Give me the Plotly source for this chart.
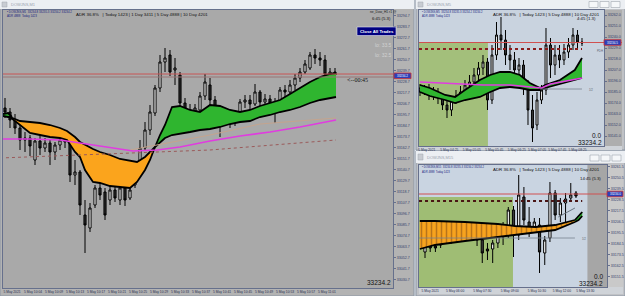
import plotly.graph_objects as go

W, H = 625, 296
FONT = "Liberation Sans, Arial, sans-serif"

# ================= DATA =================
# --- main chart (DOWJNS, M1) ---
main_open = [33202,33198,33190,33182,33170,33172,33150,33169,33162,33167,33158,33165,33170,33168,33135,33138,33095,33082,33105,33122,
             33118,33110,33120,33110,33122,33112,33125,33142,33162,33180,33197,33222,33248,33255,33240,33235,33207,33192,33198,33200,
             33214,33225,33210,33198,33190,33195,33188,33193,33208,33210,33206,33218,33208,33211,33207,33203,33220,33218,33225,33232,
             33238,33242,33255,33252,33250,33236,33238]
main_close = [33198,33190,33182,33170,33172,33164,33169,33162,33167,33158,33165,33170,33168,33135,33138,33105,33085,33102,33122,33115,
              33095,33120,33112,33122,33110,33120,33142,33162,33180,33198,33222,33248,33252,33238,33242,33207,33192,33200,33202,33214,
              33228,33210,33198,33190,33195,33188,33193,33208,33210,33206,33218,33208,33211,33207,33200,33220,33218,33225,33232,33238,
              33246,33255,33252,33250,33236,33238,33235]
main_high = [33212,33202,33196,33185,33178,33175,33172,33175,33172,33171,33168,33177,33180,33171,33150,33140,33110,33107,33125,33127,
             33122,33125,33124,33125,33124,33125,33147,33170,33188,33205,33225,33255,33262,33260,33252,33238,33212,33206,33206,33218,
             33236,33232,33214,33204,33202,33200,33198,33211,33215,33215,33226,33220,33216,33215,33212,33223,33225,33230,33236,33242,
             33250,33258,33261,33258,33255,33242,33242]
main_low = [33192,33182,33176,33160,33158,33154,33145,33155,33158,33145,33150,33160,33162,33128,33125,33095,33057,33078,33102,33110,
            33090,33105,33108,33105,33104,33110,33122,33138,33160,33175,33194,33218,33238,33234,33225,33202,33186,33188,33190,33197,
            33210,33204,33188,33173,33184,33182,33184,33191,33202,33200,33204,33202,33202,33200,33187,33200,33212,33214,33220,33228,
            33236,33240,33246,33244,33230,33228,33230]
main_x = list(range(len(main_open)))

main_orange_x = [1, 3, 5, 7, 9, 11, 12.4, 14, 15, 16, 17.6, 19, 21, 23, 25, 26.4, 28, 29, 30]
main_orange_upper = [33193,33189,33188,33187,33185,33182,33179,33173,33168,33165,33161,33158,33155,33151,33149,33148,33153,33158,33163]
main_orange_lower = [33193,33185,33177,33175,33173,33172,33170,33158,33153,33140,33128,33127,33124,33123,33122,33128,33140,33150,33163]

main_green_x = [30, 31, 32, 33.4, 35, 37, 39, 41, 43, 45, 47, 49, 51, 53, 55, 57, 59, 61, 63, 65, 66.2]
main_green_upper = [33163,33175,33185,33203,33204,33200,33198,33205,33204,33200,33198,33200,33204,33207,33210,33216,33222,33228,33233,33236,33237]
main_green_lower = [33163,33168,33172,33175,33176,33178,33180,33181,33183,33186,33188,33189,33193,33195,33198,33200,33203,33207,33210,33212,33213]

main_green0_x = [-0.4, 0.6, 1.4]
main_green0_upper = [33196, 33197, 33193]
main_green0_lower = [33194, 33193, 33193]

main_magenta_x = [-1, 5, 11, 15, 19, 25.6, 30.4, 35, 41, 47, 53, 59, 66.2]
main_magenta_y = [33171,33171,33170,33167,33164,33159,33160,33163,33169,33174,33178,33183,33190]
main_dotted_x = [-1, 41, 66.2]
main_dotted_y = [33152, 33160, 33170]
main_tan_x = [25, 41, 51, 66.2]
main_tan_y = [33160, 33175, 33186, 33192]

main_price_lines = [33236, 33233]
main_current = 33234.2
main_time_pos = [1.4, 5.6, 9.8, 14.0, 18.2, 22.4, 26.6, 30.8, 35.0, 39.2, 43.4, 47.6, 51.8, 56.0, 60.2, 64.4]
main_time_labels = ["5 May 2021", "5 May 10:04", "5 May 10:09", "5 May 10:13", "5 May 10:17", "5 May 10:21",
                    "5 May 10:25", "5 May 10:29", "5 May 10:33", "5 May 10:37", "5 May 10:41", "5 May 10:45",
                    "5 May 10:49", "5 May 10:53", "5 May 10:57", "5 May 11:01"]

# --- top-right chart (DOWJNS, M5) ---
tr_open = [33189,33185,33189,33182,33185,33179,33172,33167,33177,33181,33185,33192,33195,33202,33209,33215,33177,33222,33242,33237,
           33222,33217,33207,33212,33192,33167,33152,33177,33187,33232,33212,33222,33217,33225,33232,33242,33235]
tr_close = [33185,33189,33182,33185,33179,33172,33167,33177,33181,33185,33192,33195,33202,33209,33215,33177,33222,33242,33237,33222,
            33217,33207,33212,33192,33167,33149,33177,33187,33232,33212,33222,33217,33225,33232,33242,33235,33234]
tr_high = [33193,33192,33193,33190,33189,33183,33179,33181,33187,33191,33197,33202,33209,33215,33222,33219,33232,33255,33260,33247,
           33232,33225,33219,33217,33197,33182,33185,33192,33249,33239,33232,33232,33233,33239,33249,33247,33239]
tr_low = [33181,33182,33177,33177,33173,33167,33159,33161,33173,33177,33181,33187,33189,33195,33202,33167,33173,33217,33227,33212,
          33207,33197,33195,33182,33152,33135,33147,33173,33182,33199,33202,33209,33212,33219,33227,33229,33231]
tr_x = list(range(len(tr_open)))

tr_green_x = [0, 2.2, 5.6, 7.8, 10, 13.3, 15.6, 17.8, 20, 22.2, 24.4, 26.7, 27.8, 31.1, 34.4, 36]
tr_green_upper = [33192,33189,33182,33180,33187,33197,33202,33205,33205,33202,33194,33189,33192,33197,33207,33219]
tr_green_lower = [33185,33181,33177,33174,33177,33180,33185,33189,33190,33189,33187,33187,33189,33193,33197,33199]
tr_magenta_x = [0, 6, 14, 20, 25, 27, 29, 36]
tr_magenta_y = [33195, 33194, 33192, 33192, 33190, 33189, 33193, 33199]
tr_zone = [-0.22, 15.1, 33235]          # x0, x1, top of shaded zone
tr_current = 33234.5
tr_dotted = [33228, -0.22, 36]
tr_gray = [33188, 26.7, 36]
tr_time_pos = [1.5, 6.5, 11.5, 16.5, 21.5, 26.0, 30.5, 35.0]
tr_time_labels = ["5 May 2021", "5 May 04:25", "5 May 05:05", "5 May 05:45", "5 May 06:25", "5 May 07:05",
                  "5 May 07:45", "5 May 08:25"]

# --- bottom-right chart (DOWJNS, M15) ---
br_open = [33176,33193,33182,33183,33192,33197,33191,33197,33192,33195,33198,33188,33179,33179,33185,33200,33193,33218,33193,33231,
           33206,33200,33203,33175,33190,33235,33213,33225,33230,33235]
br_close = [33186,33180,33180,33191,33195,33188,33189,33191,33195,33198,33188,33175,33177,33185,33198,33191,33218,33201,33233,33208,
            33198,33206,33176,33188,33235,33213,33225,33229,33233,33232]
br_high = [33192,33196,33186,33196,33200,33200,33195,33200,33198,33201,33200,33192,33185,33188,33202,33206,33221,33222,33253,33241,
           33221,33210,33210,33192,33246,33238,33230,33235,33245,33237]
br_low = [33170,33176,33176,33180,33188,33184,33185,33186,33188,33192,33182,33165,33168,33165,33180,33183,33190,33171,33188,33203,
          33191,33196,33155,33163,33186,33208,33206,33205,33227,33230]
br_x = list(range(len(br_open)))

br_orange_x = [-1, 1.9, 7.7, 14, 17.3, 21.2, 25, 28.8]
br_orange_upper = [33207, 33207, 33206, 33204, 33202, 33201, 33203, 33208]
br_orange_lower = [33179, 33183, 33187, 33191, 33193, 33195, 33198, 33206]
br_green_x = [28.8, 29.5, 30.2]
br_green_upper = [33208, 33212, 33216]
br_green_lower = [33206, 33208, 33212]
br_diag_x = [25.6, 28.8]
br_diag_y = [33211, 33220]
br_zone = [-1.15, 16.9, 33231]
br_dark = [31.2, 34.96]
br_current = 33234
br_dotted = [33227, -1.15, 30.2]
br_gray = [33190, -1.15, 28.8]
br_time_pos = [1.0, 5.8, 11.0, 16.3, 21.5, 26.3, 30.8]
br_time_labels = ["5 May 2021", "5 May 06:00", "5 May 07:30", "5 May 09:00", "5 May 10:30", "5 May 12:00", "5 May 13:30"]


# ================= HELPERS =================
def fx(p):
    return p / W


def fy(p):
    return 1 - p / H


def candles(x, o, h, l, c, xa, ya, bear="#2b2b2b"):
    return go.Candlestick(
        x=x, open=o, high=h, low=l, close=c, xaxis=xa, yaxis=ya,
        increasing=dict(line=dict(color="#000000", width=1), fillcolor="#ffffff"),
        decreasing=dict(line=dict(color="#000000", width=1), fillcolor=bear),
        whiskerwidth=0, showlegend=False, hoverinfo="skip")


def band(x, lo, up, color, xa, ya, pattern=None):
    t1 = go.Scatter(x=x, y=lo, mode="lines", line=dict(color="#000000", width=1.8),
                    xaxis=xa, yaxis=ya, showlegend=False, hoverinfo="skip")
    kw = {}
    if pattern:
        kw["fillpattern"] = pattern
    t2 = go.Scatter(x=x, y=up, mode="lines", line=dict(color="#000000", width=1.8),
                    fill="tonexty", fillcolor=color, xaxis=xa, yaxis=ya,
                    showlegend=False, hoverinfo="skip", **kw)
    return [t1, t2]


def line(x, y, color, width, xa, ya, dash="solid"):
    return go.Scatter(x=x, y=y, mode="lines", line=dict(color=color, width=width, dash=dash),
                      xaxis=xa, yaxis=ya, showlegend=False, hoverinfo="skip")


fig = go.Figure()

# main
for t in band(main_orange_x, main_orange_lower, main_orange_upper, "#fba41c", "x", "y"):
    fig.add_trace(t)
for t in band(main_green_x, main_green_lower, main_green_upper, "#2fb52f", "x", "y"):
    fig.add_trace(t)
for t in band(main_green0_x, main_green0_lower, main_green0_upper, "#2fb52f", "x", "y"):
    fig.add_trace(t)
fig.add_trace(line(main_dotted_x, main_dotted_y, "#9a5a5a", 1, "x", "y", "dot"))
fig.add_trace(line(main_tan_x, main_tan_y, "#c4a48e", 1, "x", "y"))
fig.add_trace(line(main_magenta_x, main_magenta_y, "#e03ce0", 1.6, "x", "y"))
fig.add_trace(candles(main_x, main_open, main_high, main_low, main_close, "x", "y"))

# top-right
for t in band(tr_green_x, tr_green_lower, tr_green_upper, "#2fb52f", "x2", "y2"):
    fig.add_trace(t)
fig.add_trace(line(tr_magenta_x, tr_magenta_y, "#e03ce0", 1.4, "x2", "y2"))
fig.add_trace(candles(tr_x, tr_open, tr_high, tr_low, tr_close, "x2", "y2", bear="#3a3a3a"))

# bottom-right
for t in band(br_orange_x, br_orange_lower, br_orange_upper, "#f7a31e", "x3", "y3",
              pattern=dict(shape="|", fgcolor="#b8741a", bgcolor="#f7a31e", size=5, solidity=0.3)):
    fig.add_trace(t)
for t in band(br_green_x, br_green_lower, br_green_upper, "#2fb52f", "x3", "y3"):
    fig.add_trace(t)
fig.add_trace(line(br_diag_x, br_diag_y, "#6a7480", 1, "x3", "y3"))
fig.add_trace(candles(br_x, br_open, br_high, br_low, br_close, "x3", "y3", bear="#3a3a3a"))

# ================= SHAPES =================
shapes = []


def prect(x0, y0, x1, y1, fill, lc=None, lw=0, layer="below"):
    shapes.append(dict(type="rect", xref="paper", yref="paper", x0=fx(x0), x1=fx(x1), y0=fy(y1), y1=fy(y0),
                       fillcolor=fill, line=dict(color=lc or fill, width=lw), layer=layer))


# window chrome
prect(0, 0, 414, 296, "#b3b3b3", "#8c96a4", 1)
prect(0, 0, 414, 9, "#eceff3")
prect(3, 10, 393, 288, "#a9a9a9")
prect(416, 0, 625, 150, "#c0c2c6", "#8c96a4", 1)
prect(416, 0, 625, 9, "#eceff3")
prect(419, 10, 604, 146, "#c9d3df")
prect(604, 10, 622, 146, "#aeaeae")
prect(419, 146, 622, 150, "#cfd3d8")
prect(416, 151, 625, 296, "#c0c2c6", "#8c96a4", 1)
prect(416, 151, 625, 163, "#eceff3")
prect(419, 165, 607, 287, "#c9d4e1")
prect(607, 165, 623, 287, "#c9c9c9")
prect(419, 287, 623, 294, "#cfd3d8")
for bx in (589, 600, 611):
    prect(bx, 1.5, bx + 9, 7.5, "#f5f7f9", "#a0a6ae", 0.6)
    prect(bx + 1, 155, bx + 10, 161, "#f5f7f9", "#a0a6ae", 0.6)
prect(2, 2, 7, 7, "#c8ccd2", "#a0a6ae", 0.5)
prect(418, 2, 423, 7, "#c8ccd2", "#a0a6ae", 0.5)
prect(418, 154, 423, 160, "#c8ccd2", "#a0a6ae", 0.5)

# shaded zones in data coordinates
shapes.append(dict(type="rect", xref="x2", yref="y2", x0=tr_zone[0], x1=tr_zone[1], y0=33000, y1=tr_zone[2],
                   fillcolor="#a3bf7b", line=dict(width=0), layer="below"))
shapes.append(dict(type="rect", xref="x3", yref="y3", x0=br_zone[0], x1=br_zone[1], y0=33000, y1=br_zone[2],
                   fillcolor="#9fbd74", line=dict(width=0), layer="below"))
shapes.append(dict(type="rect", xref="x3", yref="y3", x0=br_dark[0], x1=br_dark[1], y0=33000, y1=33400,
                   fillcolor="#a6a6a6", line=dict(width=0), layer="below"))

# horizontal price lines
shapes.append(dict(type="line", xref="paper", yref="y", x0=fx(3), x1=fx(393), y0=main_price_lines[0], y1=main_price_lines[0],
                   line=dict(color="#c85454", width=1), layer="above"))
shapes.append(dict(type="line", xref="paper", yref="y", x0=fx(3), x1=fx(393), y0=main_price_lines[1], y1=main_price_lines[1],
                   line=dict(color="#9a7474", width=1), layer="above"))
shapes.append(dict(type="line", xref="paper", yref="y2", x0=fx(419), x1=fx(622), y0=tr_current, y1=tr_current,
                   line=dict(color="#d05050", width=1), layer="above"))
shapes.append(dict(type="line", xref="x2", yref="y2", x0=tr_dotted[1], x1=tr_dotted[2], y0=tr_dotted[0], y1=tr_dotted[0],
                   line=dict(color="#8a1c1c", width=2, dash="dot"), layer="above"))
shapes.append(dict(type="line", xref="x2", yref="y2", x0=tr_gray[1], x1=tr_gray[2], y0=tr_gray[0], y1=tr_gray[0],
                   line=dict(color="#7a8490", width=0.8), layer="above"))
shapes.append(dict(type="line", xref="paper", yref="y3", x0=fx(419), x1=fx(623), y0=br_current, y1=br_current,
                   line=dict(color="#d05050", width=1), layer="above"))
shapes.append(dict(type="line", xref="x3", yref="y3", x0=br_dotted[1], x1=br_dotted[2], y0=br_dotted[0], y1=br_dotted[0],
                   line=dict(color="#4a1414", width=2, dash="dot"), layer="above"))
shapes.append(dict(type="line", xref="x3", yref="y3", x0=br_gray[1], x1=br_gray[2], y0=br_gray[0], y1=br_gray[0],
                   line=dict(color="#7a8490", width=0.8), layer="above"))

# price label boxes
for yref, val, x0, x1 in (("y", main_current, 394, 411), ("y2", tr_current, 604, 621), ("y3", br_current, 607, 623)):
    shapes.append(dict(type="rect", xref="paper", yref=yref, x0=fx(x0), x1=fx(x1), y0=val - 2.8, y1=val + 2.8,
                       fillcolor="#2c3fb8", line=dict(color="#d03030", width=0.8), layer="above"))

# Close All Trades button
prect(357, 27, 396, 35.5, "#000080", "#e0e0f0", 0.6, layer="above")

fig.update_layout(shapes=shapes)

# ================= TEXT =================
ann = []


def A(x, y, s, size, color="#111111", anchor="left", family=FONT):
    ann.append(dict(x=fx(x), y=fy(y), xref="paper", yref="paper", text=s, showarrow=False,
                    xanchor=anchor, yanchor="middle", font=dict(size=size, color=color, family=family)))


A(9, 4.5, "DOWJNS,M1", 4, "#9aa2ae")
A(5, 11.8, "• DOWJNS,M1  33234.8 33235.3 33234.2 33234.2", 2.9, "#1a237e")
A(5, 16, "ADR 4888  Today 1423", 2.9, "#1a237e")
A(74, 14.5, "ADR 36.8%   | Today 1423 | 1 Day 3411 | 5 Day 4888 | 10 Day 4201", 4.4)
A(368, 12, "ne_Dow_H1 r1 @", 3.3, "#202020")
A(393, 19, "6:45 (5.3)", 4.3, anchor="right")
A(376.5, 31.2, "<b>Close All Trades</b>", 4.3, "#ffffff", anchor="center")
A(373, 45, "lo: 33.5", 5, "#d2d2d2")
A(373, 55, "lo: 32.5", 5, "#d2d2d2")
A(345, 80, "<--00:45", 6, "#111111", family="Liberation Serif, serif")
A(393, 282, "33234.2", 6.5, anchor="right")
A(402.5, 76, "33234.2", 3.0, "#ffffff", anchor="center")

A(425, 4.5, "DOWJNS,M5", 4, "#9aa2ae")
A(420, 12, "• DOWJNS,M5  33234.8 33235.3 33234.2 33234.2", 2.7, "#1a237e")
A(420, 16, "ADR 4888  Today 1423", 2.7, "#1a237e")
A(491, 14.5, "ADR 36.8%   | Today 1423 | 5 Day 4888 | 10 Day 4201", 4.4)
A(598, 19, "4:45 (1.3)", 4.3, anchor="right")
A(603, 135, "0.0", 6.5, anchor="right")
A(604, 142, "33234.2", 6.5, anchor="right")
A(595, 51, "PDH", 2.8, "#5a6470")
A(587, 90, "1/2", 2.8, "#5a6470")
A(612.5, 42.5, "33234.5", 3.0, "#ffffff", anchor="center")

A(425, 157.5, "DOWJNS,M15", 4, "#9aa2ae")
A(420, 167, "• DOWJNS,M15  33234.8 33235.3 33234.2 33234.2", 2.7, "#1a237e")
A(420, 172, "ADR 4888  Today 1423", 2.7, "#1a237e")
A(491, 169.5, "ADR 36.8%   | Today 1423 | 5 Day 4888 | 10 Day 4201", 4.4)
A(603, 178, "14:45 (5.3)", 4.3, anchor="right")
A(605, 276, "0.0", 6.5, anchor="right")
A(605, 283, "33234.2", 6.5, anchor="right")
A(580, 239, "1/2", 2.8, "#5a6470")
A(615, 194, "33234.0", 3.0, "#ffffff", anchor="center")

fig.update_layout(annotations=ann)

# ================= AXES =================
LC = "#66708c"
TF = dict(size=3.3, color="#2a3050", family=FONT)
YF = dict(size=3.6, color="#34406a", family=FONT)


def xax(dom, rng, anchor, pos, labels):
    return dict(domain=dom, range=rng, anchor=anchor, rangeslider=dict(visible=False), showgrid=False,
                zeroline=False, showline=True, mirror=True, linecolor=LC, linewidth=1, tickvals=pos,
                ticktext=labels, tickangle=0, tickfont=TF, ticks="", fixedrange=True, automargin=False)


def yax(dom, rng, anchor, tick0):
    return dict(domain=dom, range=rng, anchor=anchor, side="right", showgrid=False, zeroline=False,
                showline=True, mirror=True, linecolor=LC, linewidth=1, tick0=tick0, dtick=11,
                tickformat=".1f", tickfont=YF, ticks="outside", ticklen=2, tickcolor=LC,
                fixedrange=True, automargin=False)


fig.update_layout(
    width=W, height=H, margin=dict(l=0, r=0, t=0, b=0),
    paper_bgcolor="#dde2e8", plot_bgcolor="rgba(0,0,0,0)", showlegend=False, boxgap=0.4,
    template="none",
    xaxis=xax([fx(3), fx(393)], [-0.4, 77.6], "y", main_time_pos, main_time_labels),
    yaxis=yax([fy(288), fy(10)], [33022, 33300], "x", 33019.7),
    xaxis2=xax([fx(419), fx(604)], [-0.22, 40.89], "y2", tr_time_pos, tr_time_labels),
    yaxis2=yax([fy(146), fy(10)], [33131, 33267], "x2", 33141.0),
    xaxis3=xax([fx(419), fx(607)], [-1.154, 34.96], "y3", br_time_pos, br_time_labels),
    yaxis3=yax([fy(287), fy(165)], [33141, 33263], "x3", 33151.5),
)

fig.write_html("out.html")
